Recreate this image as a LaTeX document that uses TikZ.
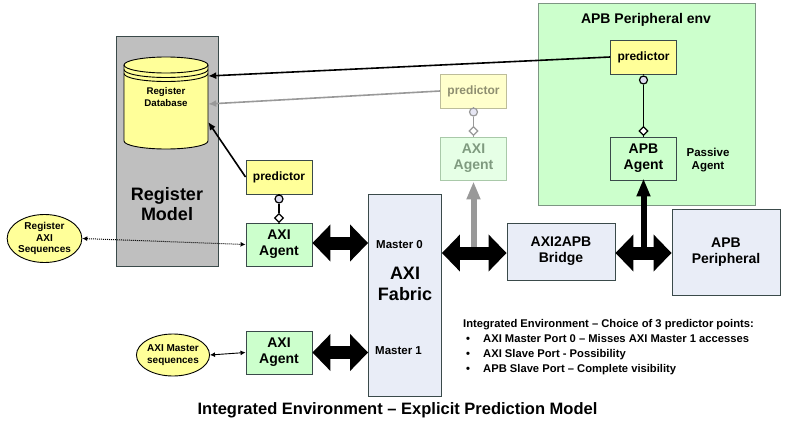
\documentclass[tikz,border=0pt]{standalone}
\usepackage{fontspec}
\setmainfont{Liberation Sans}
\usetikzlibrary{arrows.meta,shapes.geometric,calc}
\newcommand{\fsz}[1]{\fontsize{#1}{\the\dimexpr #1pt*115/100\relax}\selectfont\bfseries}
\definecolor{gboard}{HTML}{BFBFBF}
\definecolor{ygl}{HTML}{FFFF99}
\definecolor{grn}{HTML}{CCFFCC}
\definecolor{blu}{HTML}{E9EDF7}
\definecolor{edge}{HTML}{3A4A4A}
\definecolor{fdfill}{HTML}{E6FFE6}
\definecolor{fdedge}{HTML}{A9C9A9}
\definecolor{fdtxt}{HTML}{7F9A7F}
\definecolor{fyfill}{HTML}{FFFFCC}
\definecolor{fyedge}{HTML}{BDBD9A}
\definecolor{fytxt}{HTML}{8E8E70}
\definecolor{fgr}{HTML}{999999}
\definecolor{lolly}{HTML}{DDDDF0}
\tikzset{
  x=1pt,y=-1pt,
  box/.style={draw=edge,line width=0.9pt,align=center,inner sep=0pt,minimum width=66pt},
  predbox/.style={box,fill=ygl,minimum height=34pt,font=\fsz{12}},
  agentbox/.style={box,fill=grn,minimum height=43pt,font=\fsz{14}},
  fpredbox/.style={box,draw=fyedge,fill=fyfill,text=fytxt,minimum height=34pt,font=\fsz{12}},
  fagentbox/.style={box,draw=fdedge,fill=fdfill,text=fdtxt,minimum height=43pt,font=\fsz{14}},
  bluebox/.style={box,fill=blu,font=\fsz{14}},
  seqell/.style={ellipse,draw=black,line width=0.9pt,fill=ygl,align=center,inner sep=0pt,font=\fsz{10}},
  plain/.style={align=center,inner sep=0pt},
  blockarrow/.style={line width=13pt,{Triangle[length=18pt,width=36pt]}-{Triangle[length=18pt,width=36pt]}},
  uparrow/.style={line width=6pt,-{Triangle[length=18pt,width=13pt]}},
  thickarrow/.style={line width=1.6pt,-{Latex[length=8pt,width=7pt]}},
  lollyc/.style={circle,draw=black,line width=1.2pt,fill=lolly,inner sep=0pt,minimum size=8pt},
  lollyd/.style={diamond,draw=black,line width=1.2pt,fill=white,inner sep=0pt,minimum size=9pt},
  lollyl/.style={line width=1.4pt},
}
\begin{document}
\begin{tikzpicture}
\useasboundingbox (0,0) rectangle (788,426);
% backgrounds
\node[box,fill=gboard,minimum width=102pt,minimum height=230pt] (regmodel) at (167,151) {};
\node[box,draw=fdedge!60!edge,fill=grn,minimum width=217pt,minimum height=202pt] (env) at (646.5,104) {};
% register database
\fill[ygl] (124,65) arc[start angle=180,end angle=0,x radius=42pt,y radius=8pt] -- (208,141) arc[start angle=0,end angle=-180,x radius=42pt,y radius=8pt] -- cycle;
\draw[black,line width=0.9pt] (124,65) -- (124,141) arc[start angle=180,end angle=360,x radius=42pt,y radius=8pt] -- (208,65);
\draw[black,line width=0.9pt] (166,65) ellipse[x radius=42pt,y radius=8pt];
\draw[black,line width=0.9pt] (124,69.5) arc[start angle=180,end angle=360,x radius=42pt,y radius=8pt];
\draw[black,line width=0.9pt] (124,73.5) arc[start angle=180,end angle=360,x radius=42pt,y radius=8pt];
\node[inner sep=0pt,minimum width=84pt,minimum height=92pt] (db) at (166,103) {};
\node[plain,font=\fsz{9.7}] (dblabel) at (166,97) {Register\\Database};
\node[plain,font=\fsz{18}] (rmlabel) at (167,204) {Register\\Model};
% nodes
\node[predbox] (p1) at (279,177) {predictor};
\node[agentbox] (a1) at (279,244.5) {AXI\\Agent};
\node[agentbox] (a2) at (279,352.5) {AXI\\Agent};
\node[seqell,minimum width=73pt,minimum height=48pt] (s1) at (44.5,238.5) {Register\\AXI\\Sequences};
\node[seqell,minimum width=70pt,minimum height=42pt] (s2) at (173,355) {AXI Master\\sequences};
\node[bluebox,minimum width=73pt,minimum height=202pt] (fab) at (405,295) {};
\node[plain,font=\fsz{18}] (fabtxt) at (405,284) {AXI\\Fabric};
\node[plain,font=\fsz{11.5},anchor=west] (m0) at (376,245) {Master 0};
\node[plain,font=\fsz{11.5},anchor=west] (m1) at (375,351) {Master 1};
\node[bluebox,minimum width=108pt,minimum height=57pt] (br) at (561,251.5) {AXI2APB\\Bridge};
\node[bluebox,minimum width=108pt,minimum height=86pt] (per) at (726,252) {APB\\Peripheral};
\node[fpredbox] (p2) at (473.5,91) {predictor};
\node[fagentbox] (a3) at (473.5,158.5) {AXI\\Agent};
\node[predbox] (p3) at (643.5,57) {predictor};
\node[agentbox] (a4) at (643.5,158.5) {APB\\Agent};
\node[plain,font=\fsz{14}] (envt) at (646,20) {APB Peripheral env};
\node[plain,font=\fsz{11.5}] (pass) at (708,160) {Passive\\Agent};
% lollipops
\node[lollyc] (c1) at (279,199) {};
\node[lollyd] (d1) at (279,218) {};
\node[lollyc,draw=fgr,fill=lolly!70!white] (c2) at (473.5,112) {};
\node[lollyd,draw=fgr] (d2) at (473.5,131) {};
\node[lollyc] (c3) at (643.5,80) {};
\node[lollyd] (d3) at (643.5,131) {};
\draw[lollyl] (p1.south) -- (c1);
\draw[lollyl] (c1) -- (d1);
\draw[lollyl] (d1) -- (a1.north);
\draw[lollyl,fgr] (p2.south) -- (c2);
\draw[lollyl,fgr] (c2) -- (d2);
\draw[lollyl,fgr] (d2) -- (a3.north);
\draw[lollyl] (p3.south) -- (c3);
\draw[lollyl] (c3) -- (d3);
\draw[lollyl] (d3) -- (a4.north);
% predictor lines
\draw[thickarrow] (p3.west) -- ([yshift=27pt]db.east);
\draw[thickarrow,fgr] (p2.west) -- ([yshift=-1pt]db.east);
\draw[thickarrow] (p1.west) -- ([yshift=-19pt]db.east);
% up arrows
\coordinate (up2) at (473.5,250);
\coordinate (up4) at (643.5,250);
\draw[uparrow,fgr] (up2) -- ([yshift=-1pt]a3.south);
\draw[uparrow,black] (up4) -- ([yshift=2pt]a4.south);
% block arrows
\draw[blockarrow] ([yshift=1.5pt]a1.east) -- ([yshift=1.5pt]a1.east -| fab.west);
\draw[blockarrow] (a2.east) -- (a2.east -| fab.west);
\draw[blockarrow] ([yshift=-1.5pt]br.west -| fab.east) -- ([yshift=-1.5pt]br.west);
\draw[blockarrow] ([yshift=-1.5pt]br.east) -- ([yshift=-1.5pt]br.east -| per.west);
% sequence arrows
\draw[densely dotted,line width=1pt,{Latex[length=5pt,width=5pt]}-{Latex[length=5pt,width=5pt]}] (s1.east) -- (a1.west);
\draw[line width=0.9pt,{Latex[length=5pt,width=5pt]}-{Latex[length=5pt,width=5pt]}] (s2.east) -- (a2.west);
% texts
\node[plain,anchor=north west,font=\fsz{11.2},align=left] (notes) at (463,319)
  {Integrated Environment – Choice of 3 predictor points:\\[2.1pt]
   \makebox[20pt][l]{\hspace{3pt}•}AXI Master Port 0 – Misses AXI Master 1 accesses\\[2.1pt]
   \makebox[20pt][l]{\hspace{3pt}•}AXI Slave Port - Possibility\\[2.1pt]
   \makebox[20pt][l]{\hspace{3pt}•}APB Slave Port – Complete visibility};
\node[plain,font=\fsz{16.5}] (title) at (397.5,410) {Integrated Environment – Explicit Prediction Model};
\end{tikzpicture}
\end{document}
